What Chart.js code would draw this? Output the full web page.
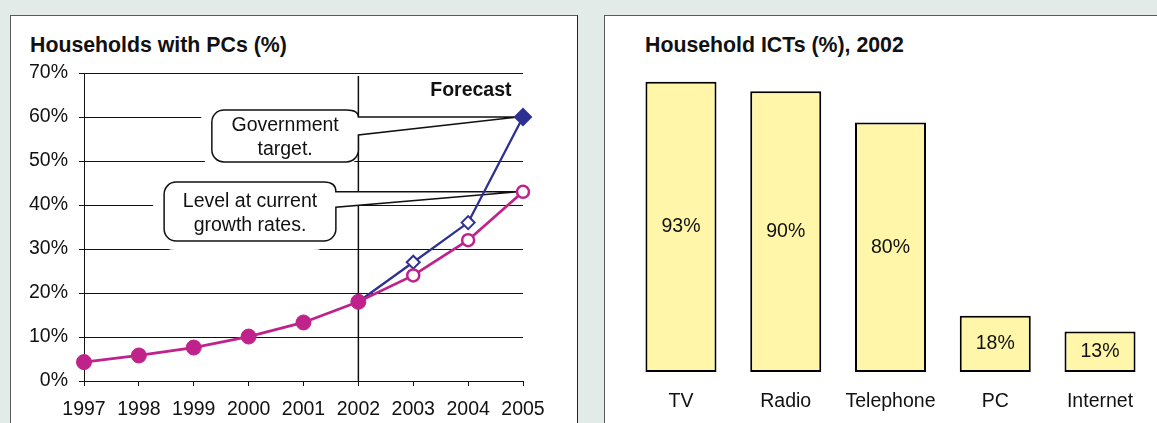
<!DOCTYPE html>
<html>
<head>
<meta charset="utf-8">
<script src="https://cdn.jsdelivr.net/npm/chart.js@4"></script>
<style>
    body {
        margin: 0;
        width: 1157px;
        height: 423px;
        overflow: hidden;
        background: #e3ebe8;
        font-family: "Liberation Sans", Arial, sans-serif;
    }
    .panel {
        position: absolute;
        top: 15px;
        height: 430px;
        background: #ffffff;
        border: 1px solid #5a5a5a;
    }
    #leftPanel {
        left: 10px;
        width: 566px;
        border-right: 1px solid #222;
    }
    #rightPanel {
        left: 604px;
        width: 600px;
    }
    .panel canvas {
        position: absolute;
        left: 0;
        top: 0;
    }
    .panelTitle {
        position: absolute;
        top: 17px;
        font-weight: bold;
        font-size: 21.3px;
        line-height: 24px;
        color: #111;
        white-space: nowrap;
    }
</style>
</head>
<body>

<div id="leftPanel" class="panel">
    <div class="panelTitle" style="left:19px">Households with PCs (%)</div>
    <canvas id="pcChart" width="566" height="407"></canvas>
</div>

<div id="rightPanel" class="panel">
    <div class="panelTitle" style="left:40px">Household ICTs (%), 2002</div>
    <canvas id="ictChart" width="552" height="407"></canvas>
</div>

<script>
// ======================================================
// Données
// ======================================================

const years = ["1997", "1998", "1999", "2000", "2001", "2002", "2003", "2004", "2005"];

// Magenta : réel jusqu'en 2002, puis croissance actuelle
const pcCurrentGrowth = [4.3, 5.8, 7.6, 10.1, 13.3, 18.0, 24.0, 32.0, 43.0];

// Bleu : objectif du gouvernement
const pcTarget = [null, null, null, null, null, 18.0, 27.0, 36.0, 60.0];

const lastActualYear = "2002";

const yTicks = [0, 10, 20, 30, 40, 50, 60, 70];

const ictLabels = ["TV", "Radio", "Telephone", "PC", "Internet"];
const ictValues = [93, 90, 80, 18, 13];


// ======================================================
// Réglages communs
// ======================================================

const FONT = "'Liberation Sans', Arial, sans-serif";
const MAGENTA = "#c0228b";
const BLUE = "#2e3192";
const INK = "#111111";

Chart.defaults.font.family = FONT;
Chart.defaults.color = INK;
Chart.defaults.animation = false;

const lastActualIdx = years.indexOf(lastActualYear);


// ======================================================
// Bulles + ligne "Forecast"
// ======================================================

const callouts = [
    {
        lines: ["Government", "target."],
        dataset: 0,
        box: { x1: 2.33, x2: 5.0, top: 61.6, bottom: 49.8 },
        wedgeBottom: 55.9
    },
    {
        lines: ["Level at current", "growth rates."],
        dataset: 1,
        box: { x1: 1.46, x2: 4.59, top: 45.2, bottom: 31.8 },
        wedgeBottom: 39.5
    }
];

const forecastPlugin = {

    id: "forecast",

    beforeDatasetsDraw(chart) {

        const ctx = chart.ctx;
        const xs = chart.scales.x;
        const ys = chart.scales.y;
        const area = chart.chartArea;
        const r = 12;

        const shapes = callouts.map(c => {

            const meta = chart.getDatasetMeta(c.dataset);
            const tip = meta.data[meta.data.length - 1];

            return {
                c: c,
                x1: xs.getPixelForValue(c.box.x1),
                x2: xs.getPixelForValue(c.box.x2),
                y1: ys.getPixelForValue(c.box.top),
                y2: ys.getPixelForValue(c.box.bottom),
                wy1: tip.y,
                wy2: ys.getPixelForValue(c.wedgeBottom),
                tx: tip.x - 5
            };

        });

        ctx.save();

        // fonds blancs qui coupent le quadrillage
        ctx.fillStyle = "#ffffff";
        shapes.forEach(s => {
            ctx.beginPath();
            ctx.roundRect(s.x1 - 11, s.y1 - 10, s.x2 - s.x1 + 11, s.y2 - s.y1 + 19, r + 10);
            ctx.fill();
        });

        // ligne verticale 2002
        const vx = xs.getPixelForValue(lastActualIdx);
        ctx.strokeStyle = INK;
        ctx.lineWidth = 1.5;
        ctx.beginPath();
        ctx.moveTo(vx, area.top + 3);
        ctx.lineTo(vx, area.bottom);
        ctx.stroke();

        // bulles
        shapes.forEach(s => {

            ctx.beginPath();
            ctx.moveTo(s.x1 + r, s.y1);
            ctx.lineTo(s.x2 - r, s.y1);
            ctx.quadraticCurveTo(s.x2, s.y1, s.x2, s.wy1);
            ctx.lineTo(s.tx, s.wy1);
            ctx.lineTo(s.x2, s.wy2);
            ctx.lineTo(s.x2, s.y2 - r);
            ctx.arcTo(s.x2, s.y2, s.x2 - r, s.y2, r);
            ctx.lineTo(s.x1 + r, s.y2);
            ctx.arcTo(s.x1, s.y2, s.x1, s.y2 - r, r);
            ctx.lineTo(s.x1, s.y1 + r);
            ctx.arcTo(s.x1, s.y1, s.x1 + r, s.y1, r);
            ctx.closePath();

            ctx.fillStyle = "#ffffff";
            ctx.fill();
            ctx.strokeStyle = INK;
            ctx.lineWidth = 1.5;
            ctx.stroke();

            ctx.fillStyle = INK;
            ctx.font = "19.5px " + FONT;
            ctx.textAlign = "center";
            ctx.textBaseline = "middle";

            const cx = (s.x1 + s.x2) / 2;
            const cy = (s.y1 + s.y2) / 2 + 2;
            const lh = 24;

            s.c.lines.forEach((t, i) => {
                ctx.fillText(t, cx, cy + (i - (s.c.lines.length - 1) / 2) * lh);
            });

        });

        // "Forecast"
        ctx.font = "bold 19.5px " + FONT;
        ctx.textAlign = "center";
        ctx.textBaseline = "middle";
        ctx.fillStyle = INK;
        ctx.fillText("Forecast", xs.getPixelForValue(7.05), ys.getPixelForValue(65.9));

        ctx.restore();

    }

};


// ======================================================
// Graphique 1 : ménages avec PC
// ======================================================

function drawPcChart() {

    const isForecast = i => i > lastActualIdx;

    new Chart(document.getElementById("pcChart"), {

        type: "line",

        data: {

            labels: years,

            datasets: [

                {
                    label: "Government target",
                    data: pcTarget,
                    borderColor: BLUE,
                    borderWidth: 2.3,
                    order: 1,
                    pointStyle: "rectRot",
                    pointRadius: c => c.dataIndex <= lastActualIdx ? 0
                        : (c.dataIndex === years.length - 1 ? 8 : 6.5),
                    pointBackgroundColor: c => c.dataIndex === years.length - 1 ? BLUE : "#ffffff",
                    pointBorderColor: BLUE,
                    pointBorderWidth: 2,
                    pointHoverRadius: 0
                },

                {
                    label: "Current growth rates",
                    data: pcCurrentGrowth,
                    borderColor: MAGENTA,
                    borderWidth: 2.8,
                    order: 0,
                    pointStyle: "circle",
                    pointRadius: c => isForecast(c.dataIndex) ? 6 : 7.5,
                    pointBackgroundColor: c => isForecast(c.dataIndex) ? "#ffffff" : MAGENTA,
                    pointBorderColor: MAGENTA,
                    pointBorderWidth: c => isForecast(c.dataIndex) ? 2.5 : 1,
                    pointHoverRadius: 0
                }

            ]

        },

        options: {

            responsive: false,

            layout: {
                padding: { left: 0, right: 54, top: 57, bottom: 0 }
            },

            plugins: {
                legend: { display: false },
                tooltip: { enabled: false }
            },

            scales: {

                x: {
                    offset: false,
                    grid: {
                        drawOnChartArea: false,
                        tickLength: 5,
                        color: INK
                    },
                    border: { color: INK, width: 1 },
                    ticks: {
                        font: { size: 19.5 },
                        padding: 12,
                        maxRotation: 0
                    },
                    afterFit: s => { s.height = 42; }
                },

                y: {
                    min: 0,
                    max: 70,
                    afterBuildTicks: s => { s.ticks = yTicks.map(v => ({ value: v })); },
                    grid: {
                        color: INK,
                        lineWidth: 1,
                        tickLength: 5
                    },
                    border: { color: INK, width: 1 },
                    ticks: {
                        font: { size: 19.5 },
                        padding: 11,
                        callback: v => v + "%"
                    },
                    afterFit: s => { s.width = 73; }
                }

            }

        },

        plugins: [forecastPlugin]

    });

}


// ======================================================
// Graphique 2 : équipements TIC
// ======================================================

const barLabelPlugin = {

    id: "barLabels",

    afterDatasetsDraw(chart) {

        const ctx = chart.ctx;
        const meta = chart.getDatasetMeta(0);

        ctx.save();
        ctx.font = "19.5px " + FONT;
        ctx.fillStyle = INK;
        ctx.textAlign = "center";
        ctx.textBaseline = "middle";

        meta.data.forEach((bar, i) => {
            ctx.fillText(ictValues[i] + "%", bar.x, (bar.y + bar.base) / 2);
        });

        ctx.restore();

    }

};

function drawIctChart() {

    new Chart(document.getElementById("ictChart"), {

        type: "bar",

        data: {

            labels: ictLabels,

            datasets: [

                {
                    label: "Household ICTs",
                    data: ictValues,
                    backgroundColor: "#fff6aa",
                    borderColor: "#000000",
                    borderWidth: 2,
                    borderSkipped: false,
                    barPercentage: 0.678,
                    categoryPercentage: 1
                }

            ]

        },

        options: {

            responsive: false,

            layout: {
                padding: { left: 23.6, right: 4.6, top: 44, bottom: 0 }
            },

            plugins: {
                legend: { display: false },
                tooltip: { enabled: false }
            },

            scales: {

                x: {
                    grid: { display: false, drawTicks: false },
                    border: { display: false },
                    ticks: {
                        font: { size: 19.5 },
                        padding: 18,
                        maxRotation: 0
                    },
                    afterFit: s => { s.height = 51; }
                },

                y: {
                    display: false,
                    min: 0,
                    max: 100
                }

            }

        },

        plugins: [barLabelPlugin]

    });

}


// ======================================================
// Initialisation
// ======================================================

drawPcChart();
drawIctChart();

</script>
</body>
</html>
